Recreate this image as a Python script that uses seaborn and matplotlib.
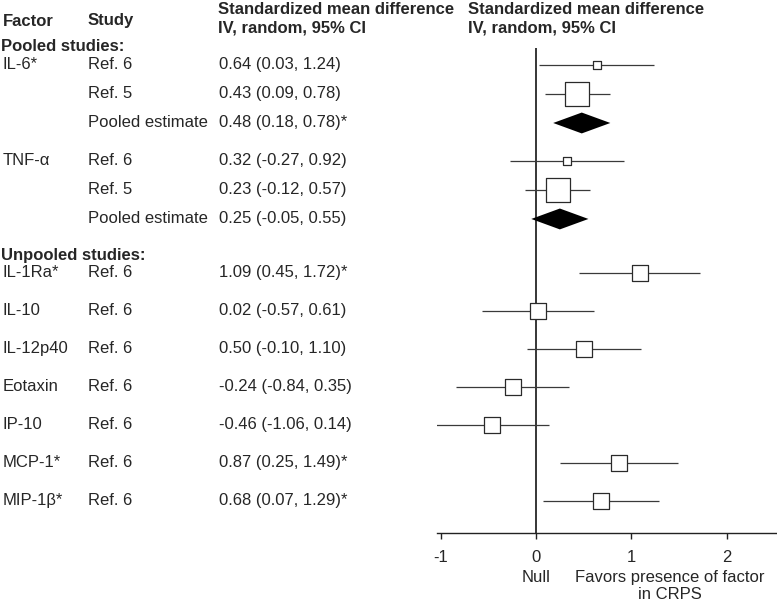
import matplotlib
matplotlib.use("Agg")
import matplotlib.pyplot as plt
import matplotlib.transforms as mtransforms
import seaborn as sns
import pandas as pd

# Forest plot data
factor = ["IL-6*", "", "", "TNF-α", "", "",
          "IL-1Ra*", "IL-10", "IL-12p40", "Eotaxin", "IP-10", "MCP-1*", "MIP-1β*"]
study = ["Ref. 6", "Ref. 5", "Pooled estimate", "Ref. 6", "Ref. 5", "Pooled estimate",
         "Ref. 6", "Ref. 6", "Ref. 6", "Ref. 6", "Ref. 6", "Ref. 6", "Ref. 6"]
section = ["pooled"] * 6 + ["unpooled"] * 7
smd = [0.64, 0.43, 0.48, 0.32, 0.23, 0.25, 1.09, 0.02, 0.50, -0.24, -0.46, 0.87, 0.68]
lower = [0.03, 0.09, 0.18, -0.27, -0.12, -0.05, 0.45, -0.57, -0.10, -0.84, -1.06, 0.25, 0.07]
upper = [1.24, 0.78, 0.78, 0.92, 0.57, 0.55, 1.72, 0.61, 1.10, 0.35, 0.14, 1.49, 1.29]
significant = [False, False, True, False, False, False,
               True, False, False, False, False, True, True]
# relative box weight (pooled estimates drawn as diamonds)
weight = [10, 90, None, 10, 90, None, 40, 40, 40, 40, 40, 40, 40]

section_titles = {"pooled": "Pooled studies:", "unpooled": "Unpooled studies:"}
col_header = ["Standardized mean difference", "IV, random, 95% CI"]

df = pd.DataFrame({"factor": factor, "study": study, "section": section,
                   "smd": smd, "lower": lower, "upper": upper,
                   "sig": significant, "weight": weight})

# row layout: small step inside a factor, bigger between factors/sections
ypos = []
y = 0.0
for i in range(len(df)):
    if i > 0:
        if df.section[i] != df.section[i - 1]:
            y += 1.86
        elif df.factor[i] != "":
            y += 1.31
        else:
            y += 1.0
    ypos.append(y)
df["y"] = ypos
df["label"] = [f"{m:.2f} ({lo:.2f}, {hi:.2f})" + ("*" if s else "")
               for m, lo, hi, s in zip(df.smd, df.lower, df.upper, df.sig)]

sns.set_theme(style="white")
plt.rcParams["font.family"] = ["Liberation Sans", "DejaVu Sans"]
plt.rcParams["axes.unicode_minus"] = False

W, H = 777, 606
fig = plt.figure(figsize=(W / 100, H / 100), dpi=100)
ax = fig.add_axes([437 / W, 1 - 533 / H, 340 / W, (533 - 48) / H])

studies = df[df.study != "Pooled estimate"]
pooled = df[df.study == "Pooled estimate"]

# CI lines
ax.hlines(studies.y, studies.lower, studies.upper, color="#3a3a3a", lw=0.9, zorder=2)
# boxes
sns.scatterplot(data=studies, x="smd", y="y", size="weight", sizes=(33, 300),
                marker="s", color="white", edgecolor="#2a2a2a", linewidth=0.9,
                legend=False, ax=ax, zorder=3)
# diamonds for pooled estimates
half_h = 0.36
for _, r in pooled.iterrows():
    ax.fill([r.lower, r.smd, r.upper, r.smd],
            [r.y, r.y - half_h, r.y, r.y + half_h], color="black", zorder=3, lw=0)

ax.axvline(0, color="black", lw=1.1, zorder=1)
ax.set_xlim(-1.04, 2.53)
ax.set_ylim(16.14, -0.586)
fs = 12
ax.set_xticks([-1, 0, 1, 2])
ax.set_xticklabels(["-1", "0", "1", "2"], fontsize=fs)
ax.set_yticks([])
ax.set_xlabel("")
ax.set_ylabel("")
for s in ["top", "right", "left"]:
    ax.spines[s].set_visible(False)
ax.spines["bottom"].set_color("#222222")
ax.spines["bottom"].set_linewidth(1.0)
ax.tick_params(axis="x", direction="out", length=4.5, width=1.0, color="#222222",
               pad=8, bottom=True)

# text columns
tr = mtransforms.blended_transform_factory(fig.transFigure, ax.transData)
for _, r in df.iterrows():
    if r.factor:
        fig.text(3 / W, r.y, r.factor, transform=tr, va="center", fontsize=fs)
    fig.text(88 / W, r.y, r.study, transform=tr, va="center", fontsize=fs)
    fig.text(219 / W, r.y, r.label, transform=tr, va="center", fontsize=fs)

for sec, off in [("pooled", 0.65), ("unpooled", 0.6)]:
    y0 = df[df.section == sec].y.min() - off
    fig.text(1 / W, y0, section_titles[sec], transform=tr, va="center",
             fontsize=fs, fontweight="bold")

# column headers
fig.text(3 / W, 1 - 21 / H, "Factor", va="center", fontsize=fs, fontweight="bold")
fig.text(88 / W, 1 - 21 / H, "Study", va="center", fontsize=fs, fontweight="bold")
for x0 in [218, 468]:
    fig.text(x0 / W, 1 - 10 / H, col_header[0], va="center", fontsize=fs, fontweight="bold")
    fig.text(x0 / W, 1 - 28 / H, col_header[1], va="center", fontsize=fs, fontweight="bold")

# axis annotations
tb = mtransforms.blended_transform_factory(ax.transData, fig.transFigure)
fig.text(0, 1 - 577 / H, "Null", transform=tb, ha="center", va="center", fontsize=fs)
fig.text(1.4, 1 - 586 / H, "Favors presence of factor\nin CRPS", transform=tb,
         ha="center", va="center", fontsize=fs, linespacing=1.1)

fig.savefig("out.png", dpi=100)
